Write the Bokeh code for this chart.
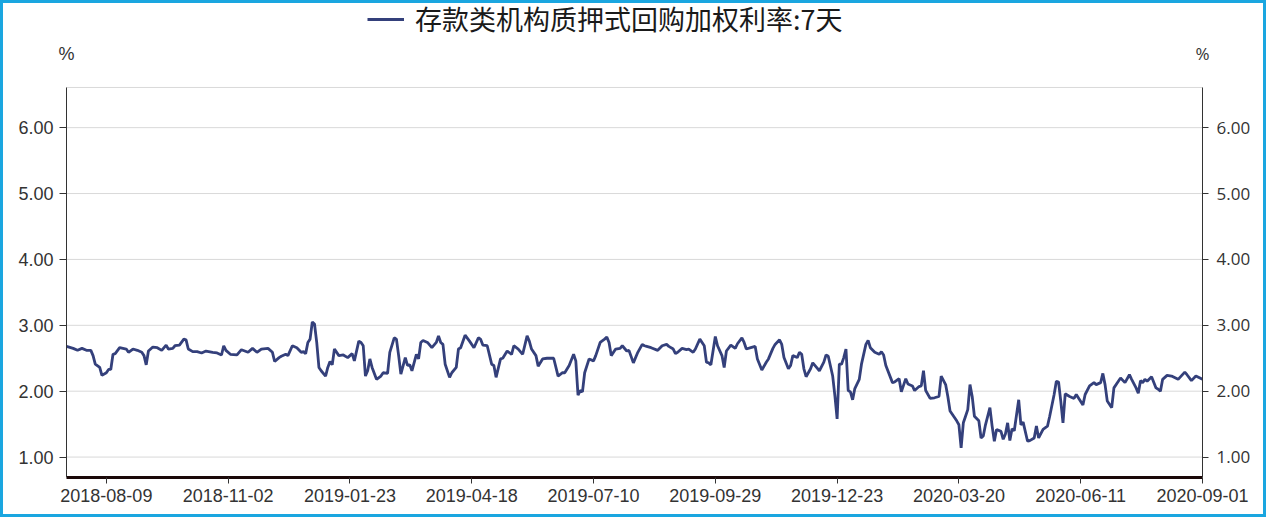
from bokeh.plotting import figure
from bokeh.models import (LinearAxis, FixedTicker, NumeralTickFormatter, Range1d,
                          Legend, LegendItem, Label, ColumnDataSource)
from bokeh.embed import file_html
from bokeh.resources import INLINE

# ---- data (trading-day index, rate %) ----
idx = [
    0, 3, 5, 7, 9, 11, 12, 13, 15, 16, 18, 19, 20, 21, 22, 24, 27, 28, 30, 32, 34, 35, 36, 37, 39,
    41, 43, 45, 46, 48, 49, 51, 53, 54, 55, 57, 59, 61, 63, 66, 68, 70, 71, 72, 74, 77, 79, 82, 84,
    86, 88, 91, 93, 94, 96, 97, 99, 100, 102, 104, 106, 107, 108, 109, 110, 111, 112, 113, 114, 115,
    117, 118, 119, 120, 121, 123, 125, 127, 129, 130,
    132, 133, 134, 135, 136, 137, 138, 140, 142, 143, 145, 146, 148, 149, 150, 151, 153, 154, 155,
    156, 158, 159, 160, 161, 163, 165, 167, 168, 169, 170, 171, 173, 174, 176, 177, 178, 180, 182,
    184, 186, 187, 188, 190, 192, 193, 194, 196, 197, 199, 201, 202, 204, 206, 208, 209, 210, 212,
    213, 215, 217, 220, 222, 224, 225, 227, 229, 230, 231, 232, 233, 234, 236, 238, 239, 241, 243,
    244, 245, 246, 248, 250, 251, 253, 254, 256, 258, 260, 261,
    262, 264, 267, 269, 271, 272, 274, 275, 276, 278, 280, 281, 283, 284, 286, 288, 289, 290, 291,
    293, 294, 296, 297, 298, 300, 302, 303, 305, 306, 307, 309, 311, 312, 314, 316, 317, 319, 320,
    322, 323, 324, 326, 327, 328, 330, 331, 332, 333, 334, 336, 337, 339, 340, 342, 343, 344, 346,
    347, 348, 349, 350, 351, 352, 353, 354, 355, 356, 358, 359, 361, 362, 363, 365, 367, 368, 369,
    370, 373, 374, 376, 377, 379, 380, 382, 383, 385, 386, 387, 388, 390, 392,
    394, 395, 397, 398, 399, 401, 402, 403, 404, 405, 406, 407, 408, 409, 410, 412, 413, 414, 415,
    417, 418, 419, 420, 422, 423, 424, 425, 426, 427, 428, 430, 431, 432, 434, 435, 437, 438, 439,
    441, 443, 444, 446, 447, 448, 449, 450, 451, 453, 455, 456, 459, 460, 462, 464, 465, 467, 468,
    469, 470, 472, 473, 475, 476, 478, 480, 481, 483, 484, 485, 486, 487, 488, 490, 492, 493, 494,
    495, 497, 499, 502, 505, 506, 508, 510, 513,
]
rate = [
    2.68, 2.65, 2.62, 2.65, 2.62, 2.62, 2.54, 2.41, 2.36, 2.24, 2.28, 2.33, 2.33, 2.56, 2.57, 2.66,
    2.64, 2.59, 2.64, 2.62, 2.59, 2.54, 2.40, 2.61, 2.67, 2.66, 2.62, 2.70, 2.64, 2.65, 2.69, 2.70,
    2.79, 2.78, 2.64, 2.60, 2.60, 2.58, 2.61, 2.59, 2.58, 2.55, 2.69, 2.62, 2.56, 2.55, 2.63, 2.59,
    2.65, 2.59, 2.64, 2.65, 2.59, 2.45, 2.51, 2.53, 2.56, 2.54, 2.69, 2.66, 2.59, 2.60, 2.57, 2.74,
    2.79, 3.05, 3.02, 2.74, 2.36, 2.31, 2.23, 2.36, 2.45, 2.40, 2.64, 2.54, 2.55, 2.51, 2.57, 2.46,
    2.76, 2.74, 2.69, 2.23, 2.31, 2.49, 2.36, 2.18, 2.23, 2.28, 2.27, 2.59, 2.81, 2.79, 2.54, 2.26,
    2.51, 2.39, 2.40, 2.31, 2.56, 2.49, 2.74, 2.77, 2.74, 2.66, 2.74, 2.84, 2.74, 2.71, 2.41, 2.21,
    2.28, 2.36, 2.64, 2.66, 2.85, 2.76, 2.66, 2.81, 2.79, 2.70, 2.69, 2.41, 2.39, 2.21, 2.49, 2.50,
    2.61, 2.56, 2.69, 2.64, 2.56, 2.84, 2.76, 2.64, 2.54, 2.38, 2.49, 2.50, 2.50, 2.23, 2.28, 2.28,
    2.39, 2.56, 2.46, 1.94, 2.01, 1.99, 2.28, 2.49, 2.46, 2.54, 2.74, 2.79, 2.82, 2.74, 2.54, 2.64,
    2.65, 2.69, 2.61, 2.62, 2.43, 2.59, 2.71, 2.69,
    2.68, 2.66, 2.62, 2.69, 2.71, 2.68, 2.64, 2.57, 2.59, 2.65, 2.63, 2.64, 2.59, 2.64, 2.79, 2.69,
    2.44, 2.43, 2.40, 2.83, 2.69, 2.54, 2.36, 2.61, 2.70, 2.65, 2.72, 2.81, 2.74, 2.64, 2.66, 2.68,
    2.49, 2.32, 2.44, 2.49, 2.65, 2.71, 2.78, 2.71, 2.51, 2.34, 2.39, 2.54, 2.51, 2.59, 2.56, 2.34,
    2.22, 2.34, 2.43, 2.35, 2.31, 2.44, 2.55, 2.53, 2.23, 1.93, 1.58, 2.41, 2.41, 2.51, 2.64, 2.01,
    1.99, 1.87, 2.04, 2.18, 2.41, 2.71, 2.77, 2.66, 2.59, 2.56, 2.60, 2.55, 2.39, 2.13, 2.14, 2.19,
    1.99, 2.19, 2.11, 2.08, 2.01, 2.07, 2.08, 2.31, 2.01, 1.89, 1.90,
    1.92, 2.23, 2.10, 1.92, 1.70, 1.60, 1.55, 1.49, 1.14, 1.52, 1.62, 1.72, 2.10, 1.92, 1.62, 1.55,
    1.29, 1.32, 1.49, 1.75, 1.47, 1.24, 1.42, 1.39, 1.27, 1.35, 1.52, 1.25, 1.43, 1.40, 1.87, 1.49,
    1.53, 1.24, 1.25, 1.29, 1.47, 1.29, 1.42, 1.47, 1.62, 1.95, 2.15, 2.14, 1.85, 1.52, 1.96, 1.92,
    1.89, 1.95, 1.79, 1.95, 2.08, 2.13, 2.10, 2.13, 2.27, 2.10, 1.85, 1.75, 2.05, 2.15, 2.20, 2.13,
    2.25, 2.18, 2.05, 1.97, 2.16, 2.13, 2.18, 2.15, 2.22, 2.05, 2.03, 2.00, 2.18, 2.24, 2.23, 2.18,
    2.29, 2.25, 2.16, 2.23, 2.18,
]
tick_idx = [18, 73, 128, 183, 238, 293, 348, 403, 458, 513]
tick_labels = ["2018-08-09", "2018-11-02", "2019-01-23", "2019-04-18", "2019-07-10",
               "2019-09-29", "2019-12-23", "2020-03-20", "2020-06-11", "2020-09-01"]
y_ticks = [1, 2, 3, 4, 5, 6]
x_first, x_last = 0, 513           # first / last trading-day index
y_min, y_max = 0.69, 6.61          # value span of the axes
unit_level = 7.12                  # height of the "%" unit marks
series_name = "存款类机构质押式回购加权利率:7天"
unit = "%"

LINE = "#34407B"
TXT = "#333333"

# The frame covers the whole canvas width and top; the axes are pinned at fixed
# locations, so all texts lie inside the frame.
p = figure(width=1266, height=517, output_backend="svg", toolbar_location=None,
           x_range=Range1d(-29.80, 541.90), y_range=Range1d(y_min, 7.93),
           min_border_left=0, min_border_right=0, min_border_top=0, min_border_bottom=40,
           background_fill_color=None, border_fill_color=None,
           outline_line_color=None)
p.styles = {"background-color": "white", "box-shadow": "inset 0 0 0 3px #1AA6E0"}

p.xgrid.visible = False
p.ygrid.visible = False

# horizontal grid lines between the two value axes
grid_levels = y_ticks + [y_max]
gsrc = ColumnDataSource(dict(y=grid_levels, x0=[x_first] * len(grid_levels),
                             x1=[x_last] * len(grid_levels)))
p.segment(x0="x0", x1="x1", y0="y", y1="y", source=gsrc, line_color="#d9d9d9", line_width=1)

src = ColumnDataSource(dict(x=idx, y=rate))
main = p.line("x", "y", source=src, line_color=LINE, line_width=2.8)

# bottom axis
xa = p.xaxis[0]
xa.bounds = (x_first, x_last)
xa.ticker = FixedTicker(ticks=tick_idx)
xa.major_label_overrides = {t: l for t, l in zip(tick_idx, tick_labels)}
xa.axis_line_color = "#1a0808"
xa.axis_line_width = 3
xa.major_tick_out = 6
xa.major_tick_in = 0
xa.major_tick_line_color = "#333333"
xa.minor_tick_line_color = None
xa.major_label_standoff = 5
xa.major_label_text_font = "Liberation Sans"
xa.major_label_text_font_size = "18px"
xa.major_label_text_color = TXT

# left axis
ya = p.yaxis[0]
ya.fixed_location = x_first
ya.bounds = (y_min, y_max + 0.002)
ya.ticker = FixedTicker(ticks=y_ticks)
ya.formatter = NumeralTickFormatter(format="0.00")
ya.axis_line_color = "#333333"
ya.major_tick_out = 7
ya.major_tick_in = 0
ya.major_tick_line_color = "#333333"
ya.minor_tick_line_color = None
ya.major_label_standoff = 6
ya.major_label_text_font = "Liberation Sans"
ya.major_label_text_font_size = "18px"
ya.major_label_text_color = TXT

# right axis
ra = LinearAxis(ticker=FixedTicker(ticks=y_ticks), formatter=NumeralTickFormatter(format="0.00"),
                bounds=(y_min, y_max + 0.002), fixed_location=x_last)
ra.axis_line_color = "#333333"
ra.major_tick_out = 6
ra.major_tick_in = 0
ra.major_tick_line_color = "#333333"
ra.minor_tick_line_color = None
ra.major_label_standoff = 8
ra.major_label_text_font = "Open Sans"
ra.major_label_text_font_size = "17px"
ra.major_label_text_color = TXT
p.add_layout(ra, "right")

# unit labels, centred over each axis line
p.add_layout(Label(x=x_first, y=unit_level, text=unit, text_align="center", text_baseline="middle",
                   text_font="Liberation Sans", text_font_size="18px", text_color=TXT))
p.add_layout(Label(x=x_last, y=unit_level, text=unit, text_align="center", text_baseline="middle",
                   text_font="Open Sans", text_font_size="17px", text_color=TXT))

legend = Legend(items=[LegendItem(label=series_name, renderers=[main])],
                location=(367, 439), padding=0, margin=0, spacing=0,
                glyph_width=37, glyph_height=30, label_height=30, label_standoff=11,
                label_text_font="Noto Sans CJK SC", label_text_font_size="27px",
                label_text_color="#1a1a1a", border_line_color=None,
                background_fill_alpha=0)
p.add_layout(legend)

open("out.html", "w").write(file_html(p, INLINE))
